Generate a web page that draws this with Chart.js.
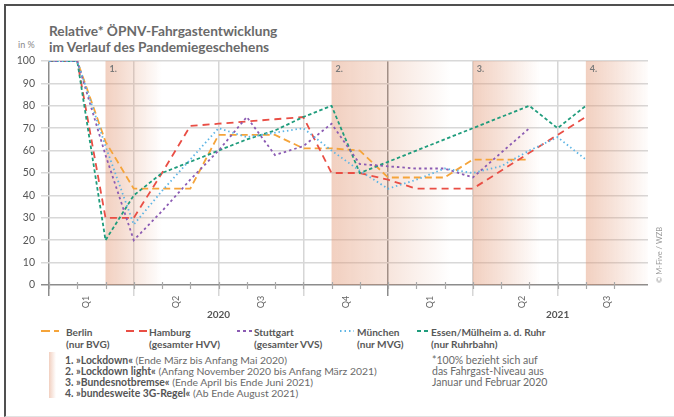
<!DOCTYPE html>
<html>
<head>
<meta charset="utf-8">
<script src="https://cdn.jsdelivr.net/npm/chart.js@4.4.1/dist/chart.umd.min.js"></script>
<style>
  body { margin: 0; background: #fff; font-family: Lato, sans-serif; }
  #wrap { position: relative; width: 674px; height: 417px; overflow: hidden; }
  .frame { position: absolute; left: 4px; top: 4px; width: 680px; height: 410px;
           border-top: 2px solid #505050; border-left: 2px solid #505050; border-bottom: 1px solid #e2e2e2; }
  .title { position: absolute; left: 49px; top: 23px; font-size: 13.7px; line-height: 16px;
           font-weight: 700; color: #6a6a6a; white-space: nowrap; }
  .unit { position: absolute; left: 18px; top: 39px; font-size: 9px; color: #888; }
  .chartbox { position: absolute; left: 0; top: 0; width: 674px; height: 320px; }
  .leg { position: absolute; top: 326px; font-size: 10.1px; line-height: 12px; font-weight: 700;
         color: #585858; white-space: nowrap; }
  .sym { position: absolute; top: 329px; }
  .notes { position: absolute; left: 65px; top: 355px; font-size: 10.4px; line-height: 11px;
           color: #6a6a6a; white-space: nowrap; }
  .notes b { color: #555; }
  .bar { position: absolute; left: 49px; top: 352px; width: 7px; height: 46px;
         background: linear-gradient(to right, rgba(225,150,115,0.45), rgba(225,150,115,0)); }
  .side { position: absolute; left: 432px; top: 355px; font-size: 10.5px; line-height: 11px;
          color: #6a6a6a; white-space: nowrap; }
</style>
</head>
<body>
<div id="wrap">
  <div class="frame"></div>
  <div class="title">Relative* ÖPNV-Fahrgastentwicklung<br>im Verlauf des Pandemiegeschehens</div>
  <div class="unit">in %</div>
  <div class="chartbox"><canvas id="chart"></canvas></div>

  <svg class="sym" style="left:41px" width="18" height="4"><line x1="0" y1="2" x2="18" y2="2" stroke="#F5A43A" stroke-width="2" stroke-dasharray="9 4 5 20"/></svg>
  <div class="leg" style="left:66px">Berlin<br>(nur BVG)</div>
  <svg class="sym" style="left:126px" width="21" height="4"><line x1="0" y1="2" x2="21" y2="2" stroke="#E94E45" stroke-width="2" stroke-dasharray="8 5"/></svg>
  <div class="leg" style="left:149px">Hamburg<br>(gesamter HVV)</div>
  <svg class="sym" style="left:237px" width="15" height="4"><line x1="0" y1="2" x2="15" y2="2" stroke="#8B5BB3" stroke-width="2" stroke-dasharray="3 3"/></svg>
  <div class="leg" style="left:254px">Stuttgart<br>(gesamter VVS)</div>
  <svg class="sym" style="left:340px" width="14" height="4"><line x1="0" y1="2" x2="14" y2="2" stroke="#5DB5E5" stroke-width="2" stroke-dasharray="1.5 3"/></svg>
  <div class="leg" style="left:357px">München<br>(nur MVG)</div>
  <svg class="sym" style="left:417px" width="12" height="4"><line x1="0" y1="2" x2="12" y2="2" stroke="#1F9C7C" stroke-width="2" stroke-dasharray="4 3"/></svg>
  <div class="leg" style="left:431px">Essen/Mülheim a. d. Ruhr<br>(nur Ruhrbahn)</div>

  <div class="bar"></div>
  <div class="notes">
    <b>1. »Lockdown«</b> (Ende März bis Anfang Mai 2020)<br>
    <b>2. »Lockdown light«</b> (Anfang November 2020 bis Anfang März 2021)<br>
    <b>3. »Bundesnotbremse«</b> (Ende April bis Ende Juni 2021)<br>
    <b>4. »bundesweite 3G-Regel«</b> (Ab Ende August 2021)
  </div>
  <div class="side">*100% bezieht sich auf<br>das Fahrgast-Niveau aus<br>Januar und Februar 2020</div>
</div>

<script>
// months since Jan 2020 (0 = Jan 2020 ... 19 = Aug 2021)
const months = [0, 1, 2, 3, 4, 5, 6, 7, 8, 9, 10, 11, 12, 13, 14, 15, 16, 17, 18, 19];

const berlin    = [100, 100, 64, 43, 43, 43, 67, 67, 67, 61, 61, 60, 48, 48, 48, 56, 56, 56];
const hamburg   = [100, 100, 30, 30, 50, 71, 72, 73, 74, 75, 50, 50, 47, 43, 43, 43, 51, 59, 67, 75];
const stuttgart = [100, 100, 58, 20, 33, 47, 60, 75, 58, 62, 72, 54, 53, 52, 52, 48, 59, 70];
const muenchen  = [100, 100, 62, 27, 42, 56, 70, 66, 68, 70, 60, 51, 43, 47, 52, 50, 53, 60, 66, 56];
const essen     = [100, 100, 20, 40, 50, 55, 60, 65, 69, 75, 80, 50, 55, 60, 65, 70, 75, 80, 70, 80];

const quarterLines = [0, 3, 6, 9, 12, 15, 18];
const tickMonths = [0, 1, 2, 3, 4, 5, 6, 7, 8, 9, 10, 11, 12, 13, 14, 15, 16, 17, 18, 19, 20];
const quarterLabels = ['Q1', 'Q2', 'Q3', 'Q4', 'Q1', 'Q2', 'Q3'];
const quarterPos = [1.3, 4.5, 7.5, 10.5, 13.5, 16.75, 19.75];
const yearLabels = ['2020', '2021'];
const yearPos = [6, 18];

// phases of the pandemic (shaded areas)
const bandLabels = ['1.', '2.', '3.', '4.'];
const bandStart = [2, 10, 15, 19];
const bandEnd = [4, 14.2, 17.4, 21.3];

const pts = vals => vals.map((v, i) => ({ x: months[i], y: v }));

Chart.defaults.font.family = 'Lato';

const decor = {
    id: 'decor',
    beforeDatasetsDraw(chart) {
        const { ctx, chartArea: a, scales: { x } } = chart;
        ctx.save();
        bandStart.forEach((s, i) => {
            const x0 = x.getPixelForValue(s);
            const xe = x.getPixelForValue(bandEnd[i]);
            const g = ctx.createLinearGradient(x0, 0, xe, 0);
            g.addColorStop(0, 'rgba(225,150,115,0.45)');
            g.addColorStop(0.4, 'rgba(225,150,115,0.28)');
            g.addColorStop(1, 'rgba(225,150,115,0)');
            ctx.fillStyle = g;
            ctx.fillRect(x0, a.top, Math.min(xe, a.right) - x0, a.bottom - a.top);
        });
        // short month ticks
        ctx.strokeStyle = '#a8a8a8';
        ctx.lineWidth = 1.2;
        tickMonths.forEach(m => {
            const px = Math.round(x.getPixelForValue(m)) + 0.5;
            ctx.beginPath();
            ctx.moveTo(px, a.bottom - 3);
            ctx.lineTo(px, a.bottom + 4);
            ctx.stroke();
        });
        ctx.restore();
    },
    afterDraw(chart) {
        const { ctx, chartArea: a, scales: { x } } = chart;
        ctx.save();
        ctx.fillStyle = '#7a7a7a';
        ctx.font = 'bold 9px Lato';
        ctx.textAlign = 'left';
        ctx.textBaseline = 'middle';
        bandStart.forEach((s, i) => ctx.fillText(bandLabels[i], x.getPixelForValue(s) + 4, a.top + 8));

        ctx.fillStyle = '#666';
        ctx.font = '9px Lato';
        ctx.textAlign = 'center';
        quarterPos.forEach((q, i) => {
            ctx.save();
            ctx.translate(x.getPixelForValue(q), a.bottom + 17);
            ctx.rotate(-Math.PI / 2);
            ctx.fillText(quarterLabels[i], 0, 0);
            ctx.restore();
        });

        ctx.fillStyle = '#555';
        ctx.font = 'bold 10px Lato';
        yearPos.forEach((p, i) => ctx.fillText(yearLabels[i], x.getPixelForValue(p), a.bottom + 30));

        ctx.fillStyle = '#9a9a9a';
        ctx.font = '7.5px Lato';
        ctx.translate(660, 255);
        ctx.rotate(-Math.PI / 2);
        ctx.fillText('© M-Five / WZB', 0, 0);
        ctx.restore();
    }
};

const line = (label, data, color, dash) => ({
    label: label,
    data: pts(data),
    borderColor: color,
    borderWidth: 1.8,
    borderDash: dash,
    pointRadius: 0,
    tension: 0,
    fill: false
});

new Chart(document.getElementById('chart'), {
    type: 'line',
    data: {
        datasets: [
            line('München', muenchen, '#5DB5E5', [1.5, 2.8]),
            line('Stuttgart', stuttgart, '#8B5BB3', [2.5, 3]),
            line('Essen/Mülheim a. d. Ruhr', essen, '#1F9C7C', [3.5, 2.5]),
            line('Hamburg', hamburg, '#E94E45', [7, 5]),
            line('Berlin', berlin, '#F5A43A', [7, 4])
        ]
    },
    options: {
        responsive: true,
        maintainAspectRatio: false,
        animation: false,
        layout: { padding: { top: 61, right: 26, left: 0, bottom: 0 } },
        plugins: { legend: { display: false }, tooltip: { enabled: false } },
        scales: {
            x: {
                type: 'linear',
                min: 0,
                max: 21.2,
                afterBuildTicks: s => { s.ticks = quarterLines.map(v => ({ value: v })); },
                afterFit: s => { s.height = 35; },
                ticks: { display: false },
                border: { display: false },
                grid: {
                    lineWidth: 1.5,
                    tickLength: 11,
                    color: c => (c.tick && (c.tick.value === 0 || c.tick.value === 12)) ? '#8c8c8c' : '#d6d6d6'
                }
            },
            y: {
                min: 0,
                max: 100,
                afterFit: s => { s.width = 49; },
                ticks: { stepSize: 10, padding: 6, color: '#555', font: { size: 10.5 } },
                border: { display: false },
                grid: {
                    lineWidth: 1.5,
                    tickLength: 8,
                    color: c => (c.tick && c.tick.value === 0) ? '#8c8c8c' : '#d8d8d8'
                }
            }
        }
    },
    plugins: [decor]
});
</script>
</body>
</html>
